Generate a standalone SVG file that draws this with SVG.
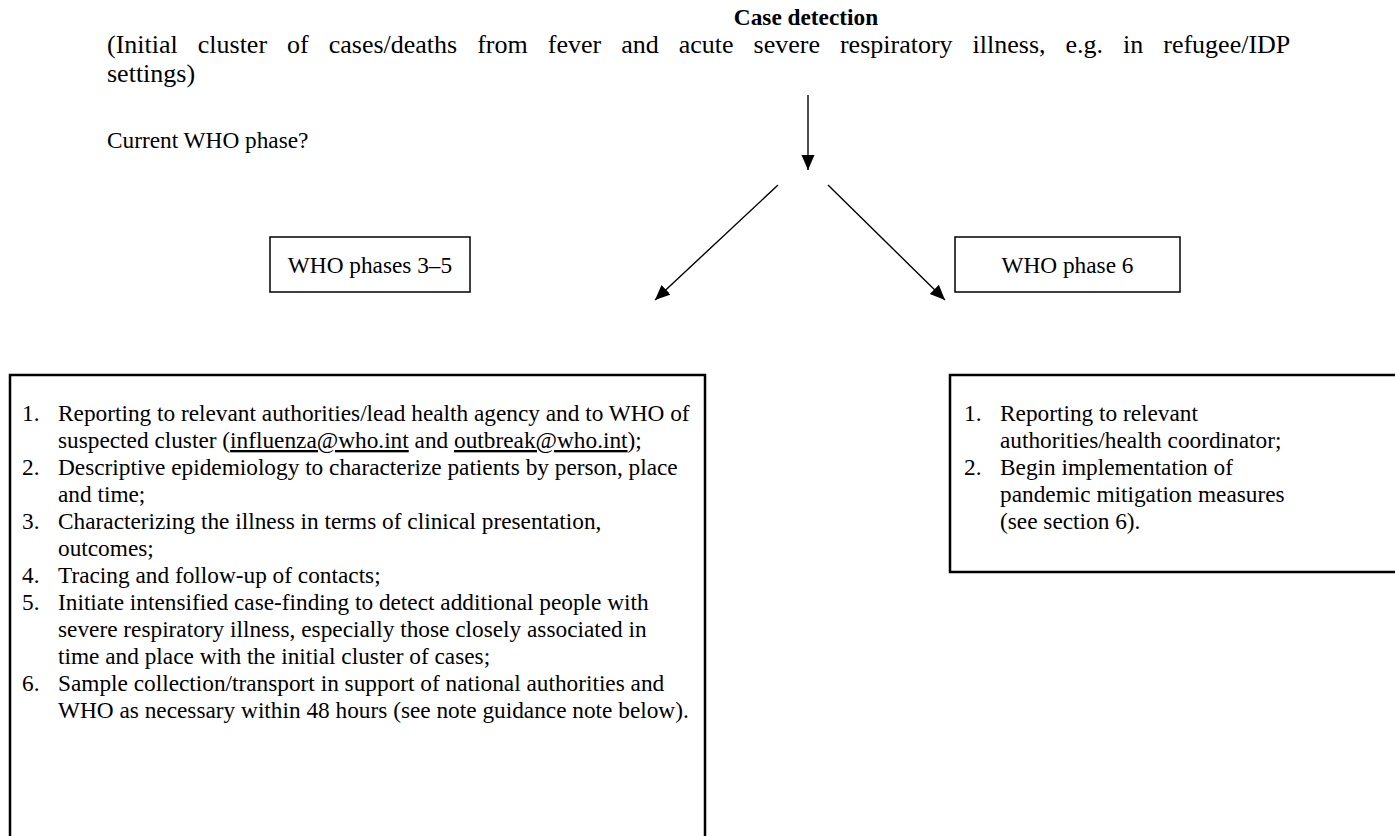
<svg xmlns="http://www.w3.org/2000/svg" width="1395" height="836" viewBox="0 0 1395 836">
<style>
text{font-family:"Liberation Serif","Times New Roman",serif;font-size:23.3px;fill:#000}
.b{font-weight:bold}
.m{text-anchor:middle}
.u{text-decoration:underline}
.t{font-size:26px}
.sb{fill:#fff;stroke:#000;stroke-width:1.5}
.bb{fill:#fff;stroke:#000;stroke-width:2.5}
.c{stroke:#000;stroke-width:1.4;fill:none}
</style>
<defs>
<marker id="ah" markerUnits="userSpaceOnUse" markerWidth="16" markerHeight="14" refX="15" refY="6.5" orient="auto">
<path d="M0,0 L15,6.5 L0,13 z" fill="#000"/>
</marker>
</defs>
<rect width="1395" height="836" fill="#fff"/>
<g id="case-detection">
<text class="b m" x="806" y="24.5">Case detection</text>
<text class="t" x="107" y="53" word-spacing="13.5">(Initial cluster of cases/deaths from fever and acute severe respiratory illness, e.g. in refugee/IDP</text>
<text class="t" x="107" y="82">settings)</text>
</g>
<g id="question">
<text x="107" y="148">Current WHO phase?</text>
</g>
<g id="phase35">
<rect class="sb" x="270" y="237" width="200" height="55"/>
<text class="m" x="370" y="273">WHO phases 3–5</text>
</g>
<g id="phase6">
<rect class="sb" x="955" y="237" width="225" height="55"/>
<text class="m" x="1067.5" y="273">WHO phase 6</text>
</g>
<g id="actions35">
<rect class="bb" x="10" y="375" width="695" height="480"/>
<text x="22" y="421">1.</text><text x="58" y="421">Reporting to relevant authorities/lead health agency and to WHO of</text>
<text x="58" y="448">suspected cluster (<tspan class="u">influenza@who.int</tspan> and <tspan class="u">outbreak@who.int</tspan>);</text>
<text x="22" y="475">2.</text><text x="58" y="475">Descriptive epidemiology to characterize patients by person, place</text>
<text x="58" y="502">and time;</text>
<text x="22" y="529">3.</text><text x="58" y="529">Characterizing the illness in terms of clinical presentation,</text>
<text x="58" y="556">outcomes;</text>
<text x="22" y="583">4.</text><text x="58" y="583">Tracing and follow-up of contacts;</text>
<text x="22" y="610">5.</text><text x="58" y="610">Initiate intensified case-finding to detect additional people with</text>
<text x="58" y="637">severe respiratory illness, especially those closely associated in</text>
<text x="58" y="664">time and place with the initial cluster of cases;</text>
<text x="22" y="691">6.</text><text x="58" y="691">Sample collection/transport in support of national authorities and</text>
<text x="58" y="718">WHO as necessary within 48 hours (see note guidance note below).</text>
</g>
<g id="actions6">
<rect class="bb" x="950" y="375" width="460" height="197"/>
<text x="964" y="421">1.</text><text x="1000" y="421">Reporting to relevant</text>
<text x="1000" y="448">authorities/health coordinator;</text>
<text x="964" y="475">2.</text><text x="1000" y="475">Begin implementation of</text>
<text x="1000" y="502">pandemic mitigation measures</text>
<text x="1000" y="529">(see section 6).</text>
</g>
<g id="connectors">
<line class="c" x1="808" y1="95" x2="808" y2="170" marker-end="url(#ah)"/>
<line class="c" x1="778" y1="185" x2="655" y2="300" marker-end="url(#ah)"/>
<line class="c" x1="828" y1="185" x2="945" y2="300" marker-end="url(#ah)"/>
</g>
</svg>
